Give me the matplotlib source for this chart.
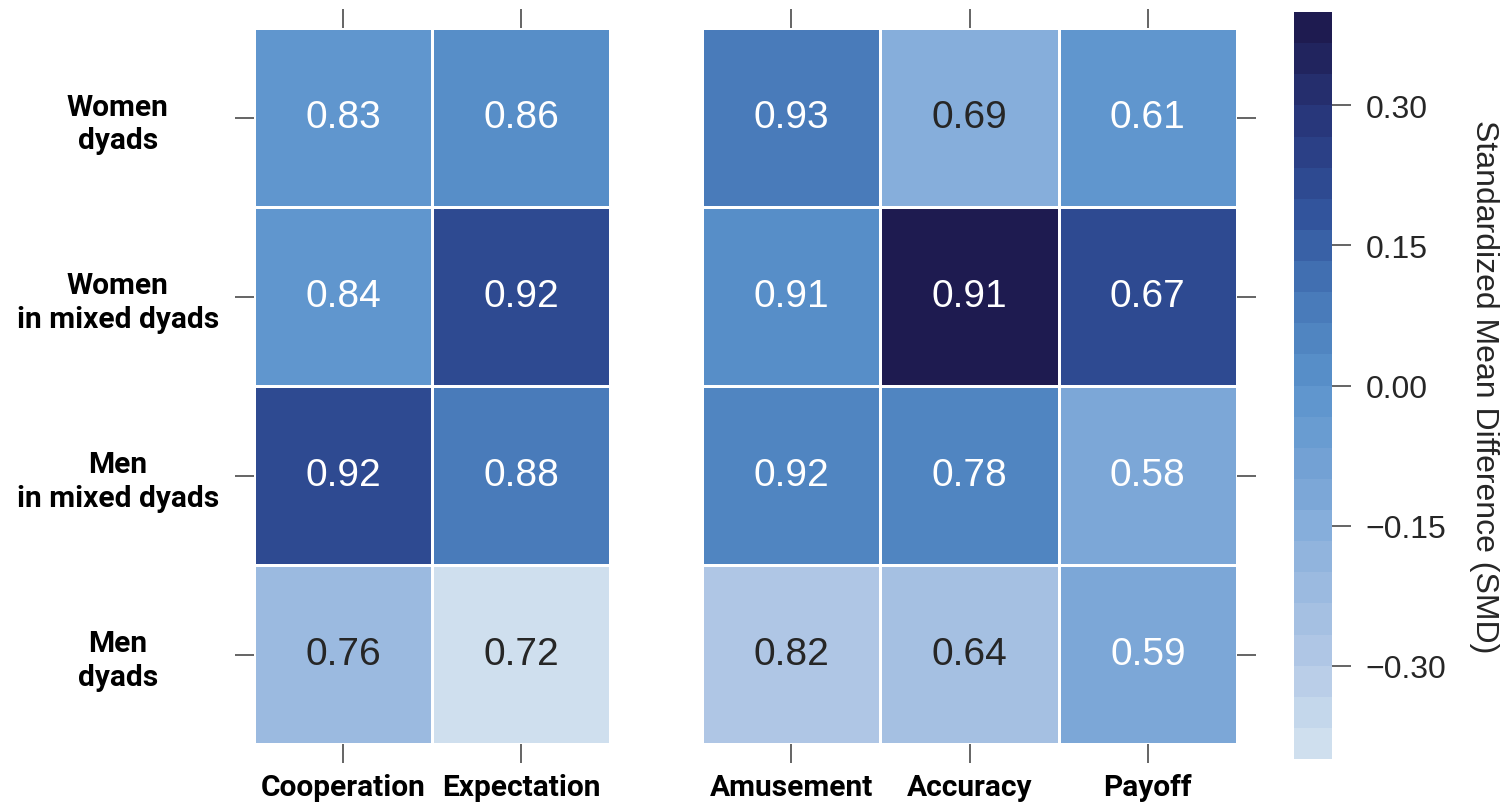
import numpy as np
import matplotlib
matplotlib.use("Agg")
import matplotlib.pyplot as plt
from matplotlib.colors import LinearSegmentedColormap, ListedColormap, Normalize
from matplotlib.cm import ScalarMappable

# ---- data ----
row_labels   = ["Women\ndyads", "Women\nin mixed dyads", "Men\nin mixed dyads", "Men\ndyads"]
left_cols    = ["Cooperation", "Expectation"]
right_cols   = ["Amusement", "Accuracy", "Payoff"]

# proportions shown in the cells
left_share   = [[0.83, 0.86], [0.84, 0.92], [0.92, 0.88], [0.76, 0.72]]
right_share  = [[0.93, 0.69, 0.61], [0.91, 0.91, 0.67], [0.92, 0.78, 0.58], [0.82, 0.64, 0.59]]

# standardized mean difference (cell colour)
left_smd     = [[-0.02, 0.02], [-0.02, 0.20], [0.22, 0.08], [-0.22, -0.38]]
right_smd    = [[0.08, -0.16, -0.02], [0.02, 0.38, 0.22], [0.05, 0.05, -0.12], [-0.29, -0.25, -0.12]]

cbar_ticks   = [-0.30, -0.15, 0.00, 0.15, 0.30]

VMIN, VMAX = -0.4, 0.4
N_LEVELS = 24

anchors = [(-0.40, "#cfdfee"), (-0.30, "#b0c7e5"), (-0.15, "#84acda"), (0.00, "#5b93cc"),
           (0.10, "#4677b7"), (0.20, "#30519a"), (0.30, "#28367a"), (0.40, "#1e1b50")]
base = LinearSegmentedColormap.from_list(
    "smd", [((v - VMIN) / (VMAX - VMIN), c) for v, c in anchors])
cmap = ListedColormap(base(np.linspace(0, 1, N_LEVELS)))
norm = Normalize(VMIN, VMAX)

LABEL_FONT = dict(family="Roboto", fontweight="bold", fontsize=21.5)
NUM_FONT   = "Liberation Sans"
TICK_COLOR = "#3a3a3a"

W, H = 1506, 803
fig = plt.figure(figsize=(W / 100, H / 100), dpi=100, facecolor="white")

def px_axes(x0, y0, x1, y1):
    return fig.add_axes([x0 / W, 1 - y1 / H, (x1 - x0) / W, (y1 - y0) / H])

def draw_block(ax, share, smd, cols, side):
    share = np.array(share)
    smd = np.array(smd)
    nr, nc = share.shape
    ax.pcolormesh(np.arange(nc + 1), np.arange(nr + 1), smd, cmap=cmap, norm=norm,
                  edgecolor="white", linewidth=1.0)
    ax.set_xlim(0, nc)
    ax.set_ylim(nr, 0)
    for i in range(nr):
        for j in range(nc):
            col = "#262626" if smd[i, j] < -0.14 else "white"
            ax.text(j + 0.5, i + 0.5, f"{share[i, j]:.2f}", ha="center", va="center",
                    fontsize=28, family=NUM_FONT, color=col)
    for s in ax.spines.values():
        s.set_visible(False)
    ax.set_xticks(np.arange(nc) + 0.5)
    ax.set_xticklabels(cols, **LABEL_FONT)
    ax.set_yticks(np.arange(nr) + 0.5)
    ax.tick_params(axis="both", length=14, width=1.1, color=TICK_COLOR,
                   top=True, bottom=True, labeltop=False, labelbottom=True)
    ax.tick_params(axis="x", pad=7)
    if side == "left":
        ax.tick_params(axis="y", left=True, right=False, labelleft=True, pad=84)
        ax.set_yticklabels(row_labels, **LABEL_FONT, linespacing=1.25)
        for t in ax.get_yticklabels():
            t.set_ha("center")
    else:
        ax.tick_params(axis="y", left=False, right=True, labelleft=False, labelright=False)

ax_l = px_axes(254, 29, 610, 745)
draw_block(ax_l, left_share, left_smd, left_cols, "left")

ax_r = px_axes(702, 29, 1237, 745)
draw_block(ax_r, right_share, right_smd, right_cols, "right")

cax = px_axes(1294, 13, 1332, 760)
sm = ScalarMappable(norm=norm, cmap=cmap)
cb = fig.colorbar(sm, cax=cax, ticks=cbar_ticks)
cb.outline.set_visible(False)
cb.ax.tick_params(length=14, width=1.1, color=TICK_COLOR, pad=10)
cb.ax.set_yticklabels([f"{t:.2f}".replace("-", "\u2212") for t in cbar_ticks],
                      family=NUM_FONT, fontsize=23, color="#262626")
cb.set_label("Standardized Mean Difference (SMD)", family=NUM_FONT, fontsize=23,
             color="#262626", rotation=270, labelpad=38)

fig.savefig("out.png", dpi=100, facecolor="white")
